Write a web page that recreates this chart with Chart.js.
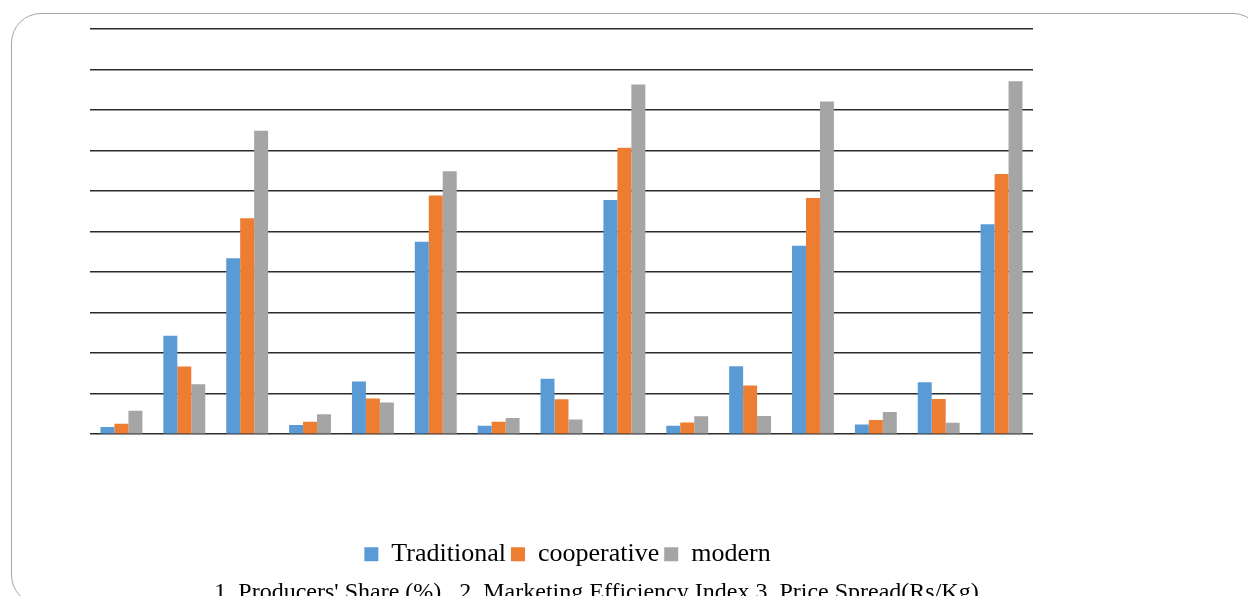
<!DOCTYPE html>
<html>
<head>
<meta charset="utf-8">
<script src="https://cdn.jsdelivr.net/npm/chart.js@4.4.1/dist/chart.umd.min.js"></script>
<style>
  html, body { margin: 0; padding: 0; width: 1248px; height: 596px; overflow: hidden; background: #fff; }
  #frame {
    position: absolute; left: 11px; top: 13px; width: 1252px; height: 592px;
    border: 1.5px solid #a6a6a6; border-radius: 30px; box-sizing: border-box;
  }
  #wrap { position: absolute; left: 0; top: 0; width: 1248px; height: 607px; }
</style>
</head>
<body>
<div id="frame"></div>
<div id="wrap"><canvas id="chart" width="1248" height="607"></canvas></div>
<script>
// indicator number for each group of bars (1 producers' share, 2 efficiency, 3 price spread)
const categories  = ['1','2','3','1','2','3','1','2','3','1','2','3','1','2','3'];
const traditional = [0.18, 2.43, 4.34, 0.23, 1.30, 4.75, 0.21, 1.37, 5.78, 0.21, 1.68, 4.65, 0.24, 1.28, 5.18];
const cooperative = [0.26, 1.67, 5.33, 0.31, 0.88, 5.89, 0.31, 0.86, 7.07, 0.29, 1.20, 5.83, 0.35, 0.87, 6.42];
const modern      = [0.58, 1.23, 7.49, 0.49, 0.78, 6.49, 0.40, 0.36, 8.63, 0.44, 0.45, 8.21, 0.55, 0.28, 8.71];
const caption = "1. Producers' Share (%)   2. Marketing Efficiency Index 3. Price Spread(Rs/Kg)";

// legend and caption sit a bit right of the plot centre in the original
const nudge = {
  id: 'nudge',
  afterLayout(chart) {
    chart.legend.left += 6;  chart.legend.right += 6;
    chart.titleBlock.left += 35; chart.titleBlock.right += 35;
  }
};

const serif = 'Liberation Serif, Times New Roman, serif';

new Chart(document.getElementById('chart'), {
  type: 'bar',
  data: {
    labels: categories,
    datasets: [
      { label: 'Traditional', data: traditional, backgroundColor: '#5B9BD5' },
      { label: 'cooperative', data: cooperative, backgroundColor: '#ED7D31' },
      { label: 'modern',      data: modern,      backgroundColor: '#A5A5A5' },
    ],
  },
  options: {
    responsive: false,
    animation: false,
    layout: { padding: { left: 90, right: 215, top: 29, bottom: 0 } },
    datasets: { bar: { categoryPercentage: 3 / 4.5, barPercentage: 1 } },
    plugins: {
      legend: {
        position: 'bottom',
        maxHeight: 40,
        labels: { font: { family: serif, size: 26 }, color: '#000', boxWidth: 14, boxHeight: 14, padding: 5 },
      },
      title: {
        display: true,
        position: 'bottom',
        text: caption,
        color: '#000',
        font: { family: serif, size: 24, weight: 'normal' },
        padding: { top: 2, bottom: 0 },
      },
      tooltip: { enabled: false },
    },
    scales: {
      x: {
        display: true,
        grid: { display: false, drawTicks: false },
        border: { display: false },
        ticks: { display: false },
        afterFit: s => { s.height = 102; },
      },
      y: {
        min: 0, max: 10,
        grid: { color: '#2a2a2a', lineWidth: 1.5, drawTicks: false },
        border: { display: false },
        ticks: { display: false, stepSize: 1 },
      },
    },
  },
  plugins: [nudge],
});
</script>
</body>
</html>
